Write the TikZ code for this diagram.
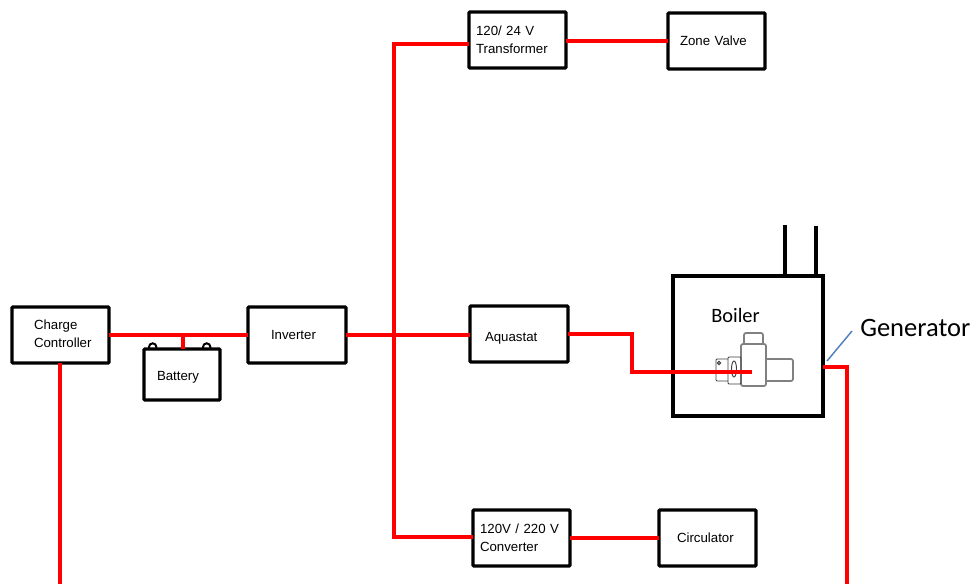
\documentclass[tikz,border=0pt]{standalone}
\usepackage{fontspec}
\setmainfont{Liberation Sans}
\newfontfamily\calib{Carlito}
\begin{document}
\begin{tikzpicture}[x=0.75pt,y=-0.75pt,
  bx/.style n args={3}{draw=black,line width=2.3pt,rounded corners=0.6pt,align=left,inner ysep=0pt,outer sep=0pt,
    inner xsep=#3*0.75pt,text width=(#1-2*#3)*0.75pt,minimum height=#2*0.75pt,
    font=\fontsize{9.95}{13.5}\selectfont},
  wire/.style={draw=red,line width=2.6pt,line join=miter},
  blk/.style={draw=black,line width=2.3pt},
  burnerg/.style={draw=black!50,line width=1.3pt,rounded corners=1.5pt},
  burnerk/.style={draw=black!75,line width=0.7pt,rounded corners=0.8pt},
  term/.style={draw=black,line width=1.5pt}]
\useasboundingbox (0,0) rectangle (971,584);
\fill[white] (0,0) rectangle (971,584);
% coordinates
\coordinate (junc) at (394,335);
\coordinate (trin) at (469,44);
\coordinate (cvin) at (473,537);
\coordinate (ccout) at (60,363);
\coordinate (ccend) at (60,584);
\coordinate (tap) at (183,335);
\coordinate (tapb) at (183,349);
\coordinate (aqk1) at (632,334);
\coordinate (aqk2) at (632,372);
\coordinate (burn) at (752,372);
\coordinate (boilout) at (823,367);
\coordinate (genk) at (847,367);
\coordinate (genend) at (847,584);
\coordinate (leadA) at (827,361);
\coordinate (leadB) at (852,331);
\coordinate (chA) at (785,225);
\coordinate (chAb) at (785,276);
\coordinate (chB) at (816,226);
\coordinate (chBb) at (816,276);
% boxes
\node[bx={97}{56}{22}] (cc) at (60.5,335) {\raisebox{1.5pt}{Charge}\\\raisebox{1.5pt}{Controller}};
\node[bx={76}{51}{13},text height=11.4pt] (bat) at (182,374.5) {Battery};
\node[bx={98}{56}{23}] (inv) at (297,335) {Inverter};
\node[bx={97}{56}{7}] (tr) at (517.5,40) {\raisebox{0.75pt}{120/ 24 V}\\\raisebox{0.75pt}{Transformer}};
\node[bx={97}{56}{12}] (zv) at (716.5,41) {Zone Valve};
\node[bx={98}{56}{15},text height=13pt] (aq) at (519,334) {Aquastat};
\node[bx={97}{56}{7}] (cv) at (521.5,538) {120V / 220 V\\Converter};
\node[bx={97}{56}{18}] (ci) at (707.5,538) {Circulator};
\node[draw=black,line width=2.6pt,minimum width=112.5pt,minimum height=105pt,inner sep=0pt,outer sep=0pt] (bo) at (748,346) {};
\node[font=\calib\fontsize{15.3}{18}\selectfont,inner sep=0pt] (bol) at (735.5,315) {Boiler};
\node[font=\calib\fontsize{19.9}{24}\selectfont,inner sep=0pt,anchor=west] (gen) at (860,328) {Generator};
% burner
\draw[burnerg] (744,344) -- (744,333) -- (763,333) -- (763,344);
\draw[burnerg] (741,344) rectangle (766,386);
\draw[burnerg] (766,359) -- (793,359) -- (793,381) -- (766,381);
\draw[burnerk] (728,357) rectangle (741,384);
\draw[burnerk] (728,359) -- (716,359) -- (716,381) -- (728,381);
\draw[burnerk] (734,369) ellipse [x radius=2.5,y radius=8];
\draw[burnerk] (719,363) circle [radius=1.6];
% battery terminals
\draw[term] (149,349) -- (149,347) arc[start angle=180,end angle=360,radius=3.7] -- (156.4,349);
\draw[term] (203,349) -- (203,347) arc[start angle=180,end angle=360,radius=3.7] -- (210.4,349);
% chimneys
\draw[blk] (chA) -- (chAb);
\draw[blk] (chB) -- (chBb);
% wires
\draw[wire] (cc.east) -- (inv.west);
\draw[wire] (tap) -- (tapb);
\draw[wire] (inv.east) -- (junc) -- (aq.west |- junc);
\draw[wire] (trin) -| (junc) |- (cvin);
\draw[wire] (tr.east |- zv.west) -- (zv.west);
\draw[wire] (aq.east) -- (aqk1) -- (aqk2) -- (burn);
\draw[wire] (cv.east |- ci.west) -- (ci.west);
\draw[wire] (boilout) -- (genk) -- (genend);
\draw[wire] (ccout) -- (ccend);
\draw[draw={rgb,255:red,79;green,129;blue,189},line width=1.1pt] (leadA) -- (leadB);
\end{tikzpicture}
\end{document}
